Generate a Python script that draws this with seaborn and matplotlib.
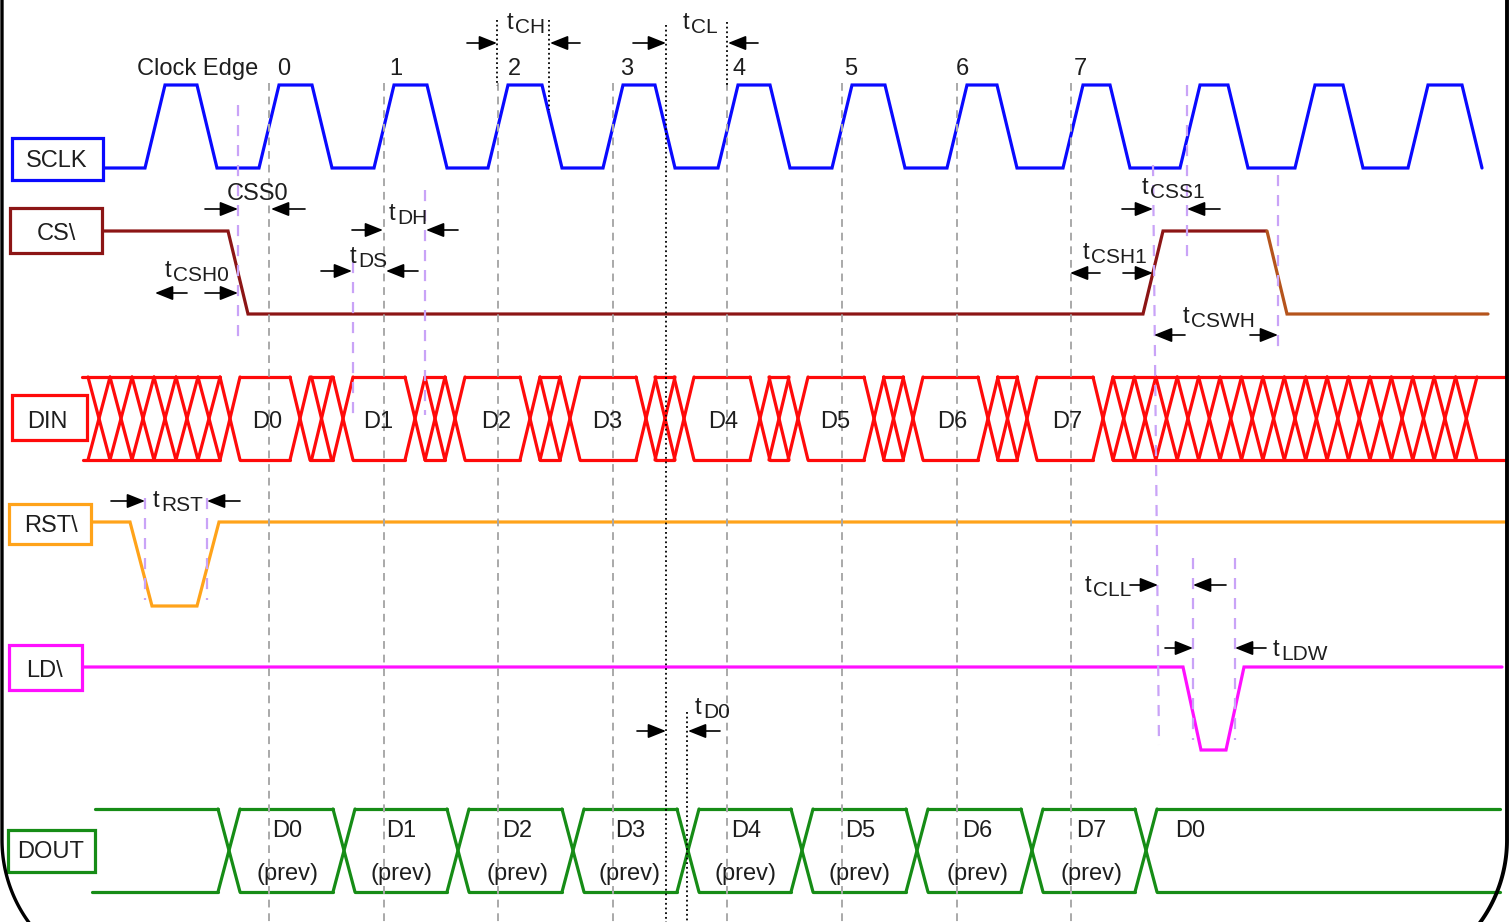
import numpy as np
import pandas as pd
import matplotlib
matplotlib.use('Agg')
import matplotlib.pyplot as plt
from matplotlib.patches import Rectangle
import seaborn as sns

# ---- timing data (x positions on the 1510 px wide time axis) ----
clock_edge_labels = ['0', '1', '2', '3', '4', '5', '6', '7']
clock_edge_x = [269, 384, 498, 613, 727, 842, 957, 1071]
clock_label_x = [284, 396, 514, 627, 739, 851, 962, 1080]

sclk_rise = [155, 269, 384, 498, 613, 728, 842, 957, 1073, 1190, 1305, 1418]
sclk_fall = [207, 322, 437, 552, 665, 780, 895, 1007, 1120, 1238, 1353, 1472]

cs_edges = [238, 1153, 1277]      # fall, rise, fall
rst_edges = [141, 208]            # fall, rise
ld_edges = [1192, 1235]           # fall, rise

din_labels = ['D0', 'D1', 'D2', 'D3', 'D4', 'D5', 'D6', 'D7']
din_valid_start = [240, 353, 465, 580, 694, 808, 923, 1037]
din_valid_end = [290, 405, 520, 636, 750, 864, 978, 1093]
din_label_x = [267, 378, 496, 607, 723, 835, 952, 1067]

dout_cross = [229, 344, 458, 573, 688, 802, 917, 1032, 1146]
dout_labels = ['D0', 'D1', 'D2', 'D3', 'D4', 'D5', 'D6', 'D7', 'D0']
dout_sublabels = ['(prev)'] * 8 + ['']
dout_label_x = [287, 401, 517, 630, 746, 860, 977, 1091, 1190]

# timing parameter annotations
ann_main = ['t', 't', 'CSS0', 't', 't', 't', 't', 't', 't', 't', 't', 't', 't']
ann_sub = ['CH', 'CL', '', 'DH', 'DS', 'CSH0', 'CSS1', 'CSH1', 'CSWH', 'RST', 'CLL', 'LDW', 'D0']
ann_x = [507, 683, 227, 389, 350, 165, 1142, 1083, 1183, 153, 1085, 1273, 695]
ann_y = [29, 29, 200, 220, 263, 277, 194, 259, 323, 507, 592, 656, 714]
ann_arrow_y = [43, 43, 209, 230, 271, 293, 209, 273, 335, 501, 585, 648, 731]
ann_left = [(467, 497), (633, 666), (205, 238), (352, 383), (321, 352), (187, 155),
            (1122, 1153), (1100, 1070), (1185, 1154), (111, 145), (1130, 1158),
            (1165, 1193), (637, 666)]
ann_right = [(580, 550), (758, 728), (305, 271), (458, 426), (418, 386), (205, 238),
             (1220, 1187), (1123, 1153), (1250, 1278), (240, 207), (1226, 1193),
             (1266, 1235), (720, 688)]

# guide lines: (x, y_top, y_bottom)
black_dotted = [(497, 20, 86), (549, 20, 110), (666, 25, 922), (727, 22, 86), (687, 712, 922)]
purple_dashed = [(238, 105, 340), (353, 262, 415), (425, 190, 415), (1187, 85, 265),
                 (1278, 175, 355), (145, 498, 600), (207, 498, 600),
                 (1193, 558, 740), (1235, 558, 740)]

# signal name boxes
box_names = ['SCLK', 'CS\\', 'DIN', 'RST\\', 'LD\\', 'DOUT']
box_x0 = [12, 10, 12, 9, 9, 8]
box_x1 = [103, 102, 87, 91, 82, 95]
box_y0 = [138, 208, 395, 504, 645, 830]
box_y1 = [180, 253, 440, 544, 690, 872]
box_text_x = [57, 56, 47, 51, 45, 51]
box_text_y = [167, 240, 428, 532, 677, 858]

colors = {'SCLK': '#0a0aff', 'CS': '#8c1515', 'CS2': '#b5541c', 'DIN': '#ff0a0a',
          'RST': '#ffa31a', 'LD': '#ff10ff', 'DOUT': '#168c16'}
box_colors = [colors['SCLK'], colors['CS'], colors['DIN'], colors['RST'], colors['LD'], colors['DOUT']]

FONT = 'Liberation Sans'
TXT = '#1e1e1e'
FS = 17
LW = 2.3

sns.set_theme(style='white')
plt.rcParams['font.family'] = [FONT, 'DejaVu Sans']

fig = plt.figure(figsize=(15.1, 9.22), dpi=100)
ax = fig.add_axes([0, 0, 1, 1])


def step_path(x_start, x_end, lev0, lev1, edges, w):
    xs, ys = [x_start], [lev0]
    cur, other = lev0, lev1
    for e in edges:
        xs += [e - w / 2, e + w / 2]
        ys += [cur, other]
        cur, other = other, cur
    xs.append(x_end)
    ys.append(cur)
    return xs, ys


def draw_line(xs, ys, color):
    df = pd.DataFrame({'x': xs, 'y': ys})
    sns.lineplot(data=df, x='x', y='y', sort=False, estimator=None, color=color,
                 lw=LW, ax=ax, solid_joinstyle='miter')


def draw_segments(segs, color):
    rows = []
    for i, s in enumerate(segs):
        for (x, y) in s:
            rows.append((x, y, i))
    df = pd.DataFrame(rows, columns=['x', 'y', 'seg'])
    sns.lineplot(data=df, x='x', y='y', units='seg', sort=False, estimator=None,
                 color=color, lw=LW, ax=ax)


def x_cross(s, w, top, bot):
    return [[(s, top), (s + w, bot)], [(s, bot), (s + w, top)]]


# SCLK
sclk_edges = sorted(sclk_rise + sclk_fall)
xs, ys = step_path(103, 1482, 168, 85, sclk_edges, 20)
draw_line(xs, ys, colors['SCLK'])

# CS\ (last fall in a browner tone)
xs, ys = step_path(102, 1266, 231, 314, cs_edges[:2], 20)
draw_line(xs, ys, colors['CS'])
xs, ys = step_path(1266, 1488, 231, 314, cs_edges[2:], 20)
draw_line(xs[1:], ys[1:], colors['CS2'])

# RST\
xs, ys = step_path(91, 1505, 522, 606, rst_edges, 22)
draw_line(xs, ys, colors['RST'])

# LD\
xs, ys = step_path(82, 1502, 667, 750, ld_edges, 18)
draw_line(xs, ys, colors['LD'])

# DIN
T, B = 377, 460
segs = []
segs += [[(82, T), (220, T)], [(83, B), (220, B)]]
for s in np.linspace(88, 220, 7)[:-1]:
    segs += x_cross(s, 22, T, B)
for i in range(len(din_valid_start)):
    s, e = din_valid_start[i], din_valid_end[i]
    segs += [[(s, T), (e, T)], [(s, B), (e, B)]]
    segs += x_cross(s - 20, 20, T, B)
    segs += x_cross(e, 20, T, B)
    if i + 1 < len(din_valid_start):
        ns = din_valid_start[i + 1]
        segs += [[(e + 20, T), (ns - 20, T)], [(e + 20, B), (ns - 20, B)]]
        mid = (e + ns) / 2
        segs += x_cross(mid - 10, 20, T, B)
last = din_valid_end[-1] + 20
segs += [[(last, T), (1505, T)], [(last, B), (1505, B)]]
n_hatch = 17
hw = (1477 - last) / n_hatch
for k in range(n_hatch):
    segs += x_cross(last + k * hw, hw, T, B)
draw_segments(segs, colors['DIN'])

# DOUT
T2, B2 = 809, 892
segs = [[(95, T2), (dout_cross[0] - 11, T2)], [(92, B2), (dout_cross[0] - 11, B2)]]
for i, c in enumerate(dout_cross):
    segs += x_cross(c - 11, 22, T2, B2)
    nxt = dout_cross[i + 1] - 11 if i + 1 < len(dout_cross) else 1500
    segs += [[(c + 11, T2), (nxt, T2)], [(c + 11, B2), (nxt, B2)]]
draw_segments(segs, colors['DOUT'])

# guide lines
for x in clock_edge_x:
    ax.plot([x, x], [83, 922], color='#a9a9a9', lw=1.4, ls=(0, (4, 3)), zorder=4)
for x, y0, y1 in black_dotted:
    ax.plot([x, x], [y0, y1], color='black', lw=1.3, ls=(0, (1, 1.6)), zorder=4)
for x, y0, y1 in purple_dashed:
    ax.plot([x, x], [y0, y1], color='#c9a3f7', lw=1.6, ls=(0, (5, 4)), zorder=4)
ax.plot([1153, 1159], [165, 745], color='#c9a3f7', lw=1.6, ls=(0, (5, 4)), zorder=4)

# name boxes
for i, name in enumerate(box_names):
    ax.add_patch(Rectangle((box_x0[i], box_y0[i]), box_x1[i] - box_x0[i], box_y1[i] - box_y0[i],
                           facecolor='white', edgecolor=box_colors[i], lw=LW, zorder=5))
    ax.text(box_text_x[i], box_text_y[i], name, ha='center', va='baseline',
            fontsize=FS, color=TXT, zorder=6)

# clock edge labels
ax.text(137, 75, 'Clock Edge', ha='left', va='baseline', fontsize=FS, color=TXT)
for lab, x in zip(clock_edge_labels, clock_label_x):
    ax.text(x, 75, lab, ha='center', va='baseline', fontsize=FS, color=TXT)

# data labels
for lab, x in zip(din_labels, din_label_x):
    ax.text(x, 428, lab, ha='center', va='baseline', fontsize=FS, color=TXT, zorder=6)
for lab, sub, x in zip(dout_labels, dout_sublabels, dout_label_x):
    ax.text(x, 837, lab, ha='center', va='baseline', fontsize=FS, color=TXT, zorder=6)
    if sub:
        ax.text(x, 880, sub, ha='center', va='baseline', fontsize=FS, color=TXT, zorder=6)

# timing annotations
arrow_style = dict(arrowstyle='-|>,head_length=0.55,head_width=0.22', color='black',
                   lw=1.2, shrinkA=0, shrinkB=0, mutation_scale=20)
for i in range(len(ann_main)):
    ax.text(ann_x[i], ann_y[i], ann_main[i], ha='left', va='baseline', fontsize=FS,
            color=TXT, zorder=6)
    if ann_sub[i]:
        ax.text(ann_x[i] + 8, ann_y[i] + 4, ann_sub[i], ha='left', va='baseline',
                fontsize=15, color=TXT, zorder=6)
    y = ann_arrow_y[i]
    for tail, tip in (ann_left[i], ann_right[i]):
        ax.annotate('', xy=(tip, y), xytext=(tail, y), arrowprops=arrow_style, zorder=6)

# outer frame with rounded bottom corners
R, yc = 140, 840
ang = np.linspace(0, np.arcsin((930 - yc) / R), 40)
lx = np.concatenate([[2], 2 + R - R * np.cos(ang)])
ly = np.concatenate([[-5], yc + R * np.sin(ang)])
ax.plot(lx, ly, color='black', lw=2.4, zorder=7)
ax.plot(1507 - (lx - 2), ly, color='black', lw=2.8, zorder=7)

ax.set_xlim(0, 1510)
ax.set_ylim(922, 0)
ax.axis('off')
fig.savefig('out.png', dpi=100)
